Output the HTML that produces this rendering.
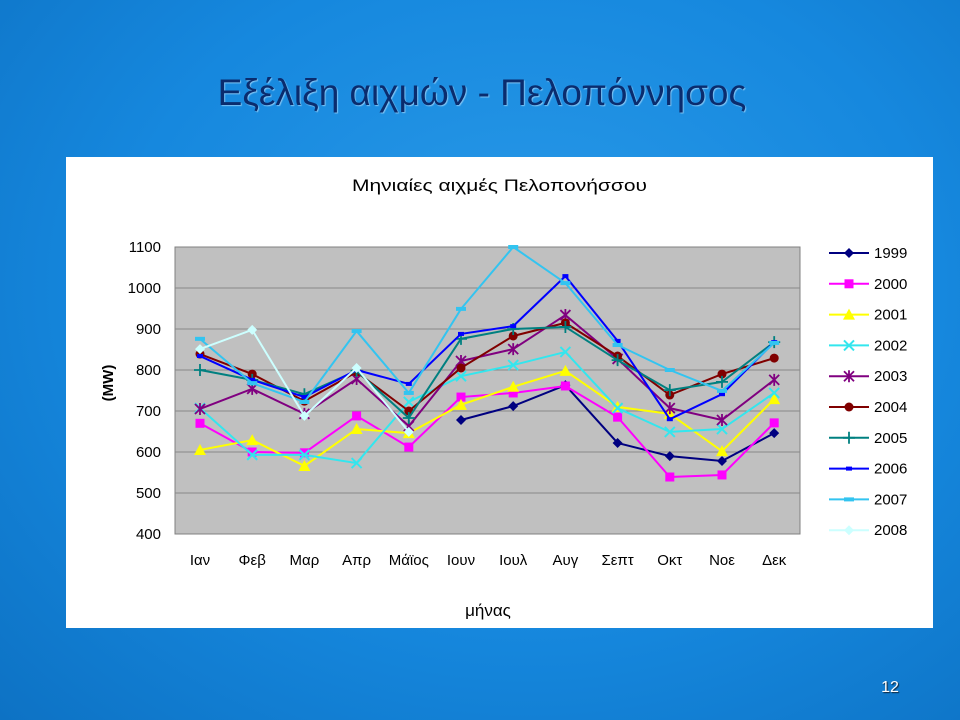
<!DOCTYPE html>
<html><head><meta charset="utf-8">
<style>
body{margin:0;width:960px;height:720px;overflow:hidden;font-family:"Liberation Sans",sans-serif;}
#bg{position:absolute;left:0;top:0;width:960px;height:720px;background:radial-gradient(ellipse at 55% 40%,#2a9ae8 0%,#1688de 55%,#0d72c4 100%);}
#title{position:absolute;left:0;width:964px;top:72px;text-align:center;font-size:37px;color:#0a2c6e;text-shadow:1px 1px 1px #7fc4f4;}
#page{position:absolute;left:870px;top:679px;width:40px;text-align:center;color:#fff;font-size:16px;text-shadow:1px 1px 1px #123;}
</style></head><body>
<div id="bg"></div>
<div id="title">Εξέλιξη αιχμών - Πελοπόννησος</div>
<div id="page">12</div>
<svg id="chart" width="960" height="720" style="position:absolute;left:0;top:0" font-family="Liberation Sans, sans-serif"></svg>
<script>
const months=["Ιαν","Φεβ","Μαρ","Απρ","Μάϊος","Ιουν","Ιουλ","Αυγ","Σεπτ","Οκτ","Νοε","Δεκ"];
const years=["1999","2000","2001","2002","2003","2004","2005","2006","2007","2008"];
const yTicks=[400,500,600,700,800,900,1000,1100];
const s1999=[null,null,null,null,null,678,712,763,622,590,578,646];
const s2000=[670,600,598,688,612,734,744,761,685,539,544,671];
const s2001=[605,629,566,656,646,715,759,798,710,693,602,729];
const s2002=[707,593,593,573,722,785,812,844,707,649,656,744];
const s2003=[705,754,693,778,663,822,851,934,827,707,678,776];
const s2004=[839,790,724,795,700,805,883,915,834,739,790,829];
const s2005=[800,776,741,798,683,876,900,905,824,751,771,868];
const s2006=[834,776,734,800,766,888,907,1029,871,680,741,868];
const s2007=[876,768,722,895,744,949,1100,1012,861,800,749,866];
const s2008=[851,898,688,805,649,null,null,null,null,null,null,null];
const series=[s1999,s2000,s2001,s2002,s2003,s2004,s2005,s2006,s2007,s2008];
const colors=["#000080","#ff00ff","#ffff00","#33e6ee","#800080","#800000","#008080","#0000ff","#33c4f0","#ccffff"];
const markers=["diamond","square","triangle","x","star","circle","plus","dash","dash2","diamond"];
const NS="http://www.w3.org/2000/svg";
const svg=document.getElementById('chart');
const PL=175,PR=800,PT=247,PB=534,YMIN=400,YMAX=1100;
function xs(i){return 200+i*52.2;}
function ys(v){return PB-(v-YMIN)/(YMAX-YMIN)*(PB-PT);}
function mk(tag,attrs,parent){const e=document.createElementNS(NS,tag);for(const k in attrs)e.setAttribute(k,attrs[k]);(parent||svg).appendChild(e);return e;}
const box=mk('rect',{x:66,y:157,width:867,height:471,fill:'#fff'});


const ct=mk('text',{x:352,y:191,'font-size':17,textLength:295,lengthAdjust:'spacingAndGlyphs',fill:'#000'});ct.textContent='Μηνιαίες αιχμές Πελοπονήσσου';


const plot=mk('rect',{x:PL,y:PT,width:PR-PL,height:PB-PT,fill:'#c0c0c0',stroke:'#808080'});


yTicks.forEach(t=>{
  if(t>YMIN&&t<YMAX){const g=mk('line',{x1:PL,x2:PR,y1:ys(t),y2:ys(t),stroke:'#888','stroke-width':1});
  
  }
  const l=mk('text',{x:161,y:ys(t)+5,'text-anchor':'end','font-size':15,fill:'#000'});l.textContent=t;
  
  
});
months.forEach((m,i)=>{const l=mk('text',{x:xs(i),y:565,'text-anchor':'middle','font-size':15,fill:'#000'});l.textContent=m;
  
  });
const yt=mk('text',{x:0,y:0,transform:'translate(113,383) rotate(-90)','text-anchor':'middle','font-size':15,'font-weight':'bold',fill:'#000'});yt.textContent='(MW)';


const xt=mk('text',{x:488,y:616,'text-anchor':'middle','font-size':17,fill:'#000'});xt.textContent='μήνας';


function marker(type,x,y,c,g){
  let e;
  if(type==='diamond')e=mk('polygon',{points:`${x},${y-5} ${x+5},${y} ${x},${y+5} ${x-5},${y}`,fill:c},g);
  else if(type==='square')e=mk('rect',{x:x-4.5,y:y-4.5,width:9,height:9,fill:c},g);
  else if(type==='triangle')e=mk('polygon',{points:`${x},${y-6} ${x+6},${y+5} ${x-6},${y+5}`,fill:c},g);
  else if(type==='circle')e=mk('circle',{cx:x,cy:y,r:4.5,fill:c},g);
  else if(type==='x')e=mk('path',{d:`M${x-5} ${y-5}L${x+5} ${y+5}M${x-5} ${y+5}L${x+5} ${y-5}`,stroke:c,'stroke-width':2},g);
  else if(type==='star')e=mk('path',{d:`M${x-5} ${y-5}L${x+5} ${y+5}M${x-5} ${y+5}L${x+5} ${y-5}M${x} ${y-6}L${x} ${y+6}`,stroke:c,'stroke-width':1.8},g);
  else if(type==='plus')e=mk('path',{d:`M${x-6} ${y}L${x+6} ${y}M${x} ${y-6}L${x} ${y+6}`,stroke:c,'stroke-width':1.8},g);
  else if(type==='dash')e=mk('rect',{x:x-3,y:y-2,width:6,height:4,fill:c},g);
  else e=mk('rect',{x:x-5,y:y-2,width:10,height:4,fill:c},g);
  
  
}
series.forEach((s,k)=>{
  const g=mk('g',{});
  
  
  let d='';let pen=false;
  s.forEach((v,i)=>{if(v==null){pen=false;return;}d+=(pen?'L':'M')+xs(i)+' '+ys(v);pen=true;});
  const p=mk('path',{d:d,fill:'none',stroke:colors[k],'stroke-width':2},g);
  
  
  s.forEach((v,i)=>{if(v!=null)marker(markers[k],xs(i),ys(v),colors[k],g);});
  const ly=253+k*30.8;
  const lg=mk('g',{});
  
  
  mk('line',{x1:829,x2:869,y1:ly,y2:ly,stroke:colors[k],'stroke-width':2},lg);
  marker(markers[k],849,ly,colors[k],lg);
  const t=mk('text',{x:874,y:ly+5,'font-size':15,fill:'#000'},lg);t.textContent=years[k];
});
</script>
</body></html>
